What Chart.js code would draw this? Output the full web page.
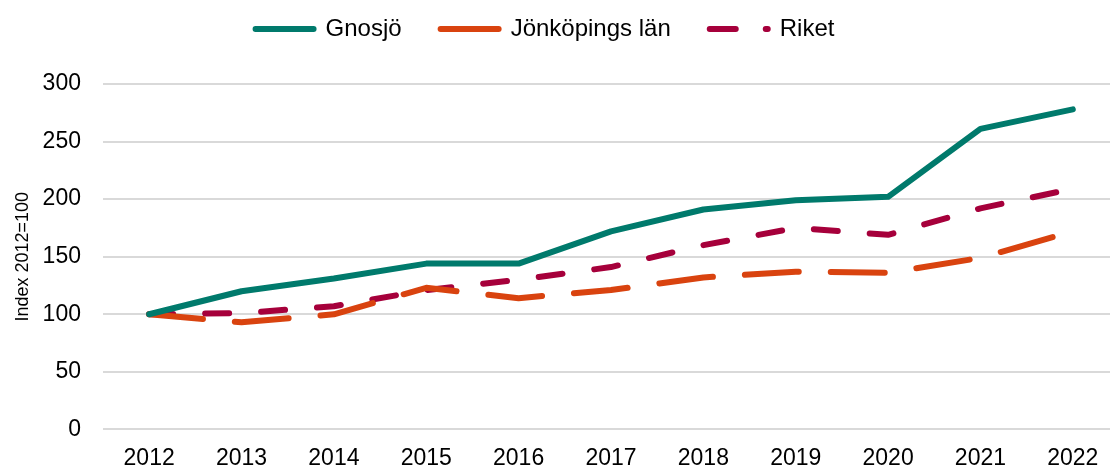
<!DOCTYPE html>
<html>
<head>
<meta charset="utf-8">
<script src="https://cdn.jsdelivr.net/npm/chart.js@4"></script>
<style>
    html, body { margin: 0; padding: 0; background: #fff; overflow: hidden; }
    /* the plot area in the original runs a little past the right edge */
    #wrap { position: absolute; left: -29px; top: 0; width: 1148px; height: 468px; }
</style>
</head>
<body>
<div id="wrap"><canvas id="indexChart"></canvas></div>
<script>
// Years on the x axis
const years = ['2012', '2013', '2014', '2015', '2016', '2017', '2018', '2019', '2020', '2021', '2022'];

// Index values (2012 = 100)
const gnosjo = [100, 120, 131, 144, 144, 172, 191, 199, 202, 261, 278];
const jonkopingsLan = [100, 93, 100, 123, 114, 121, 132, 137, 136, 149, 172];
const riket = [100, 101, 107, 121, 130, 141, 160, 175, 169, 192, 209];

// Series names
const seriesNames = ['Gnosjö', 'Jönköpings län', 'Riket'];

const ctx = document.getElementById('indexChart').getContext('2d');

Chart.defaults.font.family = '"Liberation Sans", Arial, sans-serif';
Chart.defaults.color = '#000';

// common line settings
function lineSet(label, data, color, dash) {
    return {
        label: label,
        data: data,
        borderColor: color,
        backgroundColor: color,
        borderWidth: 6,
        borderDash: dash,
        borderCapStyle: 'round',
        borderJoinStyle: 'round',
        pointRadius: 0,
        tension: 0,
        fill: false
    };
}

// dash patterns used for the small legend samples
const legendDash = [[], [], [26, 30, 2, 30]];

new Chart(ctx, {
    type: 'line',
    data: {
        labels: years,
        datasets: [
            lineSet(seriesNames[0], gnosjo, '#007A6C', []),
            lineSet(seriesNames[1], jonkopingsLan, '#D9430F', [54, 32]),
            lineSet(seriesNames[2], riket, '#A6003B', [24, 32])
        ]
    },
    options: {
        responsive: true,
        maintainAspectRatio: false,
        animation: false,
        layout: {
            padding: { top: -22, bottom: -19, left: 0, right: 0 }
        },
        plugins: {
            legend: {
                position: 'top',
                labels: {
                    usePointStyle: true,
                    pointStyleWidth: 58,
                    padding: 39,
                    font: { size: 24 },
                    generateLabels: (chart) => chart.data.datasets.map((ds, i) => ({
                        text: ds.label,
                        fillStyle: ds.borderColor,
                        strokeStyle: ds.borderColor,
                        lineWidth: 6,
                        lineCap: 'round',
                        lineDash: legendDash[i],
                        pointStyle: 'line',
                        datasetIndex: i
                    }))
                }
            },
            // empty subtitle used as a spacer between legend and plot
            subtitle: {
                display: true,
                text: '',
                weight: 500,
                font: { size: 10, lineHeight: 1 },
                padding: { top: 0, bottom: 23 }
            },
            tooltip: { enabled: false }
        },
        scales: {
            x: {
                offset: true,
                grid: { display: false, drawTicks: false },
                border: { display: false },
                ticks: {
                    padding: 15,
                    font: { size: 23 },
                    maxRotation: 0
                }
            },
            y: {
                min: 0,
                max: 300,
                grid: { color: '#d9d9d9', lineWidth: 2, drawTicks: false },
                border: { display: false },
                ticks: {
                    stepSize: 50,
                    padding: 22,
                    font: { size: 23 }
                },
                title: {
                    display: true,
                    text: 'Index 2012=100',
                    font: { size: 18 },
                    padding: { top: 41, bottom: -13 }
                }
            }
        }
    }
});
</script>
</body>
</html>
